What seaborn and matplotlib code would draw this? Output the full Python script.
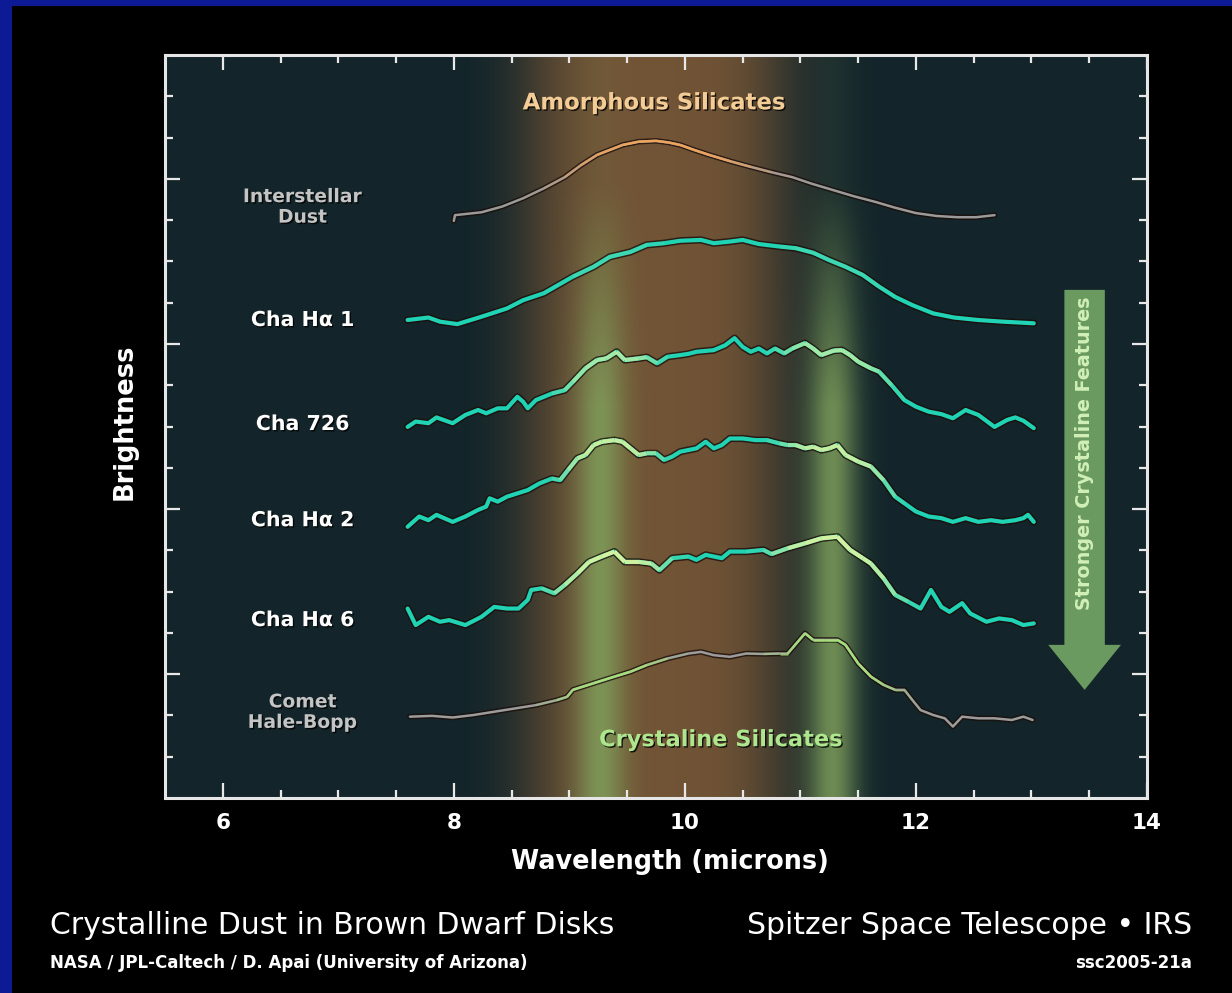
import numpy as np
import pandas as pd
import matplotlib
matplotlib.use("Agg")
import matplotlib.pyplot as plt
import seaborn as sns
from matplotlib.collections import LineCollection
from matplotlib.patches import FancyArrow, Rectangle
import matplotlib.patheffects as pe
from matplotlib.colors import to_rgb

# ---------------- data ----------------
interstellar_x = [8.00, 8.01, 8.24, 8.42, 8.60, 8.78, 8.96, 9.10, 9.24, 9.46, 9.60, 9.75, 9.86, 9.96, 10.08,
                  10.21, 10.40, 10.57, 10.75, 10.93, 11.10, 11.28, 11.46, 11.65, 11.82, 12.00, 12.18, 12.36,
                  12.52, 12.68]
interstellar_y = [13.98, 14.12, 14.19, 14.33, 14.53, 14.77, 15.04, 15.33, 15.58, 15.82, 15.90, 15.92, 15.88,
                  15.82, 15.70, 15.58, 15.42, 15.29, 15.16, 15.04, 14.88, 14.73, 14.58, 14.44, 14.30, 14.17,
                  14.10, 14.07, 14.07, 14.12]

cha_ha1_x = [7.60, 7.78, 7.88, 8.03, 8.24, 8.46, 8.60, 8.78, 9.03, 9.21, 9.35, 9.53, 9.67, 9.82, 9.96, 10.14,
             10.25, 10.39, 10.50, 10.64, 10.82, 10.96, 11.11, 11.25, 11.39, 11.54, 11.68, 11.82, 11.97, 12.15,
             12.33, 12.54, 12.75, 13.02]
cha_ha1_y = [11.58, 11.64, 11.54, 11.48, 11.66, 11.86, 12.06, 12.23, 12.63, 12.87, 13.11, 13.23, 13.40, 13.44,
             13.50, 13.52, 13.44, 13.48, 13.52, 13.42, 13.36, 13.32, 13.21, 13.03, 12.87, 12.67, 12.39, 12.14,
             11.94, 11.74, 11.64, 11.58, 11.54, 11.50]

cha726_x = [7.60, 7.67, 7.78, 7.85, 7.99, 8.10, 8.21, 8.28, 8.38, 8.46, 8.55, 8.60, 8.64, 8.71, 8.85, 8.96,
            9.03, 9.14, 9.24, 9.32, 9.41, 9.48, 9.60, 9.67, 9.76, 9.85, 9.96, 10.03, 10.10, 10.25, 10.35, 10.43,
            10.50, 10.57, 10.64, 10.71, 10.78, 10.86, 10.93, 11.04, 11.11, 11.18, 11.29, 11.36, 11.43, 11.50,
            11.61, 11.68, 11.79, 11.90, 12.00, 12.11, 12.22, 12.32, 12.43, 12.54, 12.68, 12.79, 12.86, 12.93,
            13.02]
cha726_y = [8.99, 9.12, 9.08, 9.22, 9.08, 9.28, 9.40, 9.32, 9.44, 9.44, 9.72, 9.60, 9.44, 9.64, 9.80, 9.88,
            10.08, 10.41, 10.61, 10.65, 10.81, 10.61, 10.65, 10.68, 10.53, 10.69, 10.73, 10.76, 10.81, 10.85,
            10.97, 11.14, 10.93, 10.81, 10.89, 10.77, 10.89, 10.77, 10.89, 11.02, 10.89, 10.73, 10.84, 10.85,
            10.73, 10.57, 10.41, 10.33, 10.00, 9.64, 9.48, 9.36, 9.30, 9.20, 9.40, 9.28, 8.99, 9.16, 9.22, 9.14,
            8.96]

cha_ha2_x = [7.60, 7.70, 7.78, 7.85, 7.99, 8.10, 8.21, 8.28, 8.31, 8.38, 8.46, 8.55, 8.64, 8.74, 8.85, 8.92,
             8.99, 9.07, 9.14, 9.21, 9.28, 9.39, 9.46, 9.53, 9.60, 9.67, 9.75, 9.82, 9.89, 9.96, 10.03, 10.10,
             10.18, 10.25, 10.32, 10.39, 10.50, 10.61, 10.71, 10.82, 10.89, 10.96, 11.04, 11.11, 11.18, 11.25,
             11.32, 11.39, 11.50, 11.61, 11.72, 11.82, 11.90, 12.00, 12.11, 12.22, 12.32, 12.43, 12.54, 12.65,
             12.75, 12.86, 12.93, 12.97, 13.02]
cha_ha2_y = [6.57, 6.82, 6.73, 6.86, 6.69, 6.82, 6.98, 7.06, 7.26, 7.18, 7.30, 7.38, 7.46, 7.62, 7.74, 7.70,
             7.95, 8.23, 8.31, 8.55, 8.63, 8.67, 8.63, 8.47, 8.31, 8.35, 8.35, 8.19, 8.27, 8.39, 8.43, 8.47,
             8.63, 8.47, 8.55, 8.71, 8.71, 8.67, 8.67, 8.59, 8.55, 8.55, 8.47, 8.51, 8.43, 8.47, 8.55, 8.31,
             8.15, 8.03, 7.70, 7.30, 7.14, 6.94, 6.82, 6.78, 6.69, 6.78, 6.69, 6.73, 6.69, 6.73, 6.78, 6.86, 6.69]

cha_ha6_x = [7.60, 7.67, 7.78, 7.88, 7.96, 8.10, 8.24, 8.35, 8.46, 8.56, 8.64, 8.67, 8.76, 8.87, 8.96, 9.07,
             9.17, 9.28, 9.39, 9.48, 9.60, 9.71, 9.78, 9.89, 10.03, 10.10, 10.18, 10.32, 10.39, 10.53, 10.68,
             10.75, 10.89, 11.04, 11.18, 11.32, 11.43, 11.54, 11.61, 11.72, 11.82, 11.93, 12.04, 12.13, 12.22,
             12.29, 12.40, 12.47, 12.61, 12.72, 12.83, 12.93, 13.02]
cha_ha6_y = [4.59, 4.19, 4.39, 4.27, 4.31, 4.19, 4.39, 4.63, 4.59, 4.59, 4.80, 5.04, 5.08, 4.96, 5.16, 5.44,
             5.72, 5.85, 5.97, 5.72, 5.72, 5.68, 5.52, 5.81, 5.85, 5.77, 5.89, 5.81, 5.97, 5.97, 6.01, 5.91,
             6.05, 6.17, 6.29, 6.33, 6.01, 5.81, 5.68, 5.32, 4.92, 4.76, 4.59, 5.04, 4.63, 4.51, 4.72, 4.47,
             4.27, 4.35, 4.31, 4.19, 4.23]

comet_x = [7.62, 7.81, 7.99, 8.17, 8.35, 8.53, 8.71, 8.89, 8.98, 9.03, 9.21, 9.39, 9.53, 9.67, 9.85, 10.03,
           10.14, 10.25, 10.39, 10.53, 10.68, 10.82, 10.89, 10.93, 11.04, 11.11, 11.21, 11.32, 11.39, 11.50,
           11.61, 11.72, 11.82, 11.90, 11.97, 12.04, 12.15, 12.25, 12.32, 12.40, 12.54, 12.68, 12.83, 12.93,
           13.01]
comet_y = [1.97, 1.99, 1.95, 2.01, 2.09, 2.17, 2.25, 2.37, 2.45, 2.62, 2.78, 2.94, 3.06, 3.22, 3.38, 3.50,
           3.54, 3.46, 3.42, 3.50, 3.49, 3.50, 3.50, 3.63, 3.99, 3.83, 3.83, 3.83, 3.71, 3.26, 2.94, 2.74,
           2.62, 2.62, 2.37, 2.13, 2.01, 1.93, 1.73, 1.97, 1.93, 1.93, 1.89, 1.97, 1.89]

series_names = ["Interstellar\nDust", "Cha H\u03b1 1", "Cha 726", "Cha H\u03b1 2", "Cha H\u03b1 6",
                "Comet\nHale-Bopp"]
label_y = [14.32, 11.58, 9.06, 6.73, 4.31, 2.08]
x_ticks = [6, 8, 10, 12, 14]

# ---------------- figure ----------------
sns.set_style("ticks")
plt.rcParams['font.family'] = ['DejaVu Sans']

W, H = 1232, 993
fig = plt.figure(figsize=(W / 100, H / 100), dpi=100, facecolor='black')
fig.patches.append(Rectangle((0, 1 - 6 / H), 1, 6 / H, transform=fig.transFigure,
                             facecolor='#0c1a96', edgecolor='none'))
fig.patches.append(Rectangle((0, 0), 12 / W, 1, transform=fig.transFigure,
                             facecolor='#0c1a96', edgecolor='none'))
ax = fig.add_axes([165 / W, 1 - 798 / H, 982 / W, 743 / H])
ax.set_facecolor('#13252a')

# background glow bands
gx = np.linspace(5.5, 14, 900)
gy = np.linspace(0, 18, 300)
X, Y = np.meshgrid(gx, gy)
bg = np.array([19, 37, 42]) / 255
brown = np.array([118, 86, 54]) / 255
green = np.array([128, 160, 92]) / 255
wb = 0.95 * np.exp(-((X - 9.75) / 1.15) ** 4)
wg = np.maximum(np.exp(-((X - 9.27) / 0.22) ** 2), np.exp(-((X - 11.28) / 0.22) ** 2))
v = np.clip((15.5 - Y) / 6.0, 0.10, 1.0)
img = bg * (1 - wb[..., None]) + brown * wb[..., None]
a = (0.82 * wg * v)[..., None]
img = img * (1 - a) + green * a
ax.imshow(img, extent=[5.5, 14, 0, 18], origin='lower', aspect='auto', zorder=0,
          interpolation='bilinear')


def crystal_band(x, scale=1.0):
    return np.maximum(np.exp(-((x - 9.35) / (0.42 * scale)) ** 4),
                      np.exp(-((x - 11.3) / (0.47 * scale)) ** 4))


def amorph_band(x):
    return np.exp(-((x - 9.8) / 0.85) ** 4)


curves = [
    (interstellar_x, interstellar_y, '#9a9a9a', '#f0a45c', 1.0, 'amorph', 1.8),
    (cha_ha1_x, cha_ha1_y, '#1fd3b4', '#b8f0b0', 0.2, 'cryst', 3.0),
    (cha726_x, cha726_y, '#1fd3b4', '#c4f0a4', 0.8, 'cryst', 3.0),
    (cha_ha2_x, cha_ha2_y, '#1fd3b4', '#d0f0a0', 0.95, 'cryst', 3.0),
    (cha_ha6_x, cha_ha6_y, '#1fd3b4', '#d2f2a2', 1.0, 'cryst6', 3.0),
    (comet_x, comet_y, '#9c9c9c', '#a6e07c', 1.0, 'cryst6', 1.8),
]

for xs, ys, base, hi, strength, kind, lw in curves:
    xs = np.asarray(xs)
    ys = np.asarray(ys)
    df = pd.DataFrame({'wavelength': xs, 'brightness': ys})
    sns.lineplot(data=df, x='wavelength', y='brightness', ax=ax, color=base, lw=lw,
                 sort=False, estimator=None, zorder=3,
                 path_effects=[pe.Stroke(linewidth=lw + 2.2, foreground='#1a0c08', alpha=0.75),
                               pe.Normal()])
    pts = np.column_stack([xs, ys])
    segs = np.stack([pts[:-1], pts[1:]], axis=1)
    xm = (xs[:-1] + xs[1:]) / 2
    if kind == 'amorph':
        w = amorph_band(xm)
    elif kind == 'cryst6':
        w = crystal_band(xm, 1.2)
    else:
        w = crystal_band(xm)
    w = np.clip(strength * w, 0, 1)
    cols = np.zeros((len(xm), 4))
    cols[:, :3] = to_rgb(hi)
    cols[:, 3] = w
    lc = LineCollection(segs, colors=cols, linewidths=lw, capstyle='butt',
                        joinstyle='round', zorder=4)
    ax.add_collection(lc)

shadow = [pe.withSimplePatchShadow(offset=(1, -1), shadow_rgbFace='black', alpha=0.8)]

# curve labels
for name, yy in zip(series_names, label_y):
    gray = ('Dust' in name) or ('Comet' in name)
    ax.text(6.69, yy, name, ha='center', va='center',
            color='#c4c4c4' if gray else 'white', fontsize=13.5 if gray else 14.8,
            fontweight='bold', linespacing=1.1, zorder=5, path_effects=shadow)

ax.text(9.73, 16.84, "Amorphous Silicates", ha='center', va='center', color='#f3cc96',
        fontsize=16.4, fontweight='bold', zorder=5, path_effects=shadow)
ax.text(10.31, 1.40, "Crystaline Silicates", ha='center', va='center', color='#aee68e',
        fontsize=16.2, fontweight='bold', zorder=5, path_effects=shadow)

# arrow
arrow = FancyArrow(13.46, 12.31, 0, 2.62 - 12.31, width=0.35, head_width=0.63, head_length=1.09,
                   length_includes_head=True, facecolor='#6b9a60', edgecolor='none', zorder=3)
ax.add_patch(arrow)
ax.text(13.46, 8.35, "Stronger Crystaline Features", rotation=90, ha='center', va='center',
        color='#d0f0b8', fontsize=13.8, fontweight='bold', zorder=5)

# axes styling
ax.set_xlim(5.5, 14)
ax.set_ylim(0, 18)
ax.set_xticks(x_ticks)
ax.set_xticklabels([str(t) for t in x_ticks])
ax.set_xticks(np.arange(6, 14, 0.5), minor=True)
ax.set_yticks([3, 7, 11, 15])
ax.set_yticks(np.arange(1, 18, 1), minor=True)
ax.tick_params(which='both', direction='in', top=True, right=True, colors='#e8e8e8')
ax.tick_params(which='major', length=11, width=1.6)
ax.tick_params(which='minor', length=6, width=1.6)
ax.tick_params(axis='y', labelleft=False)
ax.tick_params(axis='x', labelsize=15.5, labelcolor='white', pad=11)
for lab in ax.get_xticklabels():
    lab.set_fontweight('bold')
for sp in ax.spines.values():
    sp.set_color('#e6e6e6')
    sp.set_linewidth(2.2)
    sp.set_zorder(6)

ax.set_xlabel("Wavelength (microns)", color='white', fontsize=18.4, fontweight='bold')
ax.xaxis.set_label_coords((670 - 165) / 982, (798 - 849) / 743)
ax.set_ylabel("Brightness", color='white', fontsize=18.5, fontweight='bold')
ax.yaxis.set_label_coords((138 - 165) / 982, (798 - 422) / 743)

# footer
fig.text(50 / W, 1 - 925 / H, "Crystalline Dust in Brown Dwarf Disks", color='white', fontsize=21.5,
         ha='left', va='center')
fig.text(50 / W, 1 - 963 / H, "NASA / JPL-Caltech / D. Apai (University of Arizona)", color='white',
         fontsize=12, fontweight='bold', ha='left', va='center')
fig.text(1192 / W, 1 - 925 / H, "Spitzer Space Telescope \u2022 IRS", color='white', fontsize=21.5,
         ha='right', va='center')
fig.text(1192 / W, 1 - 963 / H, "ssc2005-21a", color='white', fontsize=12, fontweight='bold',
         ha='right', va='center')

fig.savefig("out.png", dpi=100, facecolor='black')
